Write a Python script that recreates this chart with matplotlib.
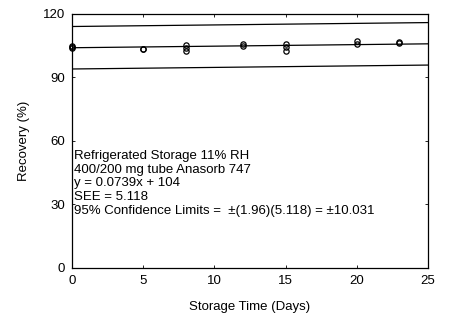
import numpy as np
import matplotlib.pyplot as plt

plt.rcParams['font.family'] = ['Liberation Sans', 'DejaVu Sans']

# storage study results
days = [0, 0, 0, 5, 5, 8, 8, 8, 12, 12, 15, 15, 15, 20, 20, 23, 23]
recovery = [105.0, 104.3, 103.8, 103.6, 103.2, 105.3, 103.9, 102.5,
            105.6, 104.9, 105.8, 104.2, 102.5, 107.0, 105.6, 106.6, 106.3]

slope = 0.0739
intercept = 104
see = 5.118
t_val = 1.96
conf = 10.031

x_ticks = [0, 5, 10, 15, 20, 25]
y_ticks = [0, 30, 60, 90, 120]

fig = plt.figure(figsize=(4.5, 3.3), dpi=100)
ax = fig.add_axes([0.16, 0.188, 0.791, 0.770])

xs = np.array([0, 25])
fit = slope * xs + intercept
ax.plot(xs, fit, color='black', lw=0.9)
ax.plot(xs, fit + conf, color='black', lw=0.9)
ax.plot(xs, fit - conf, color='black', lw=0.9)

ax.plot(days, recovery, linestyle='none', marker='o', markersize=3.8,
        markerfacecolor='none', markeredgecolor='black', markeredgewidth=0.9,
        clip_on=False)

ax.set_xlim(0, 25)
ax.set_ylim(0, 120)
ax.set_xticks(x_ticks)
ax.set_yticks(y_ticks)
ax.tick_params(direction='in', length=2.5, width=0.6, labelsize=9.5,
               top=True, right=True, pad=5)
for s in ax.spines.values():
    s.set_linewidth(0.9)

ax.set_xlabel('Storage Time (Days)', fontsize=9.5, labelpad=10)
ax.set_ylabel('Recovery (%)', fontsize=9.5, labelpad=9)

info = ("Refrigerated Storage 11% RH\n"
        "400/200 mg tube Anasorb 747\n"
        f"y = {slope}x + {intercept}\n"
        f"SEE = {see}\n"
        f"95% Confidence Limits =  \u00b1({t_val})({see}) = \u00b1{conf}")
ax.text(0.12, 55.5, info, fontsize=9.5, va='top', ha='left', linespacing=1.17)

fig.savefig('out.png', dpi=100)
